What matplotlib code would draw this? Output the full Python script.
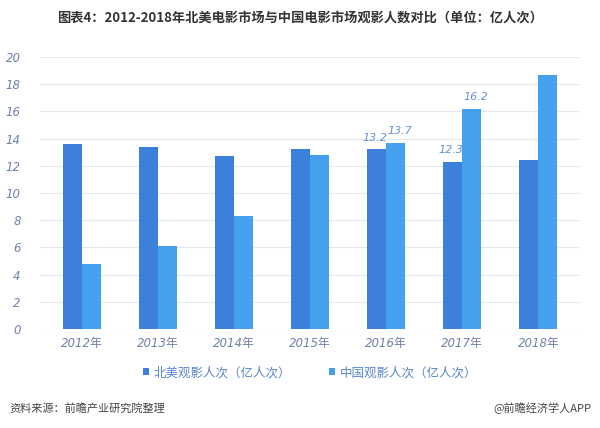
import matplotlib.pyplot as plt
import numpy as np

plt.rcParams['font.family'] = ['Noto Sans CJK SC', 'DejaVu Sans']

years = ['2012年', '2013年', '2014年', '2015年', '2016年', '2017年', '2018年']
north_america = [13.6, 13.4, 12.7, 13.2, 13.2, 12.3, 12.4]
china = [4.8, 6.1, 8.3, 12.8, 13.7, 16.2, 18.7]
yticks = [0, 2, 4, 6, 8, 10, 12, 14, 16, 18, 20]

na_color = '#3c80dc'
cn_color = '#45a0ee'
tick_color = '#7080a8'
num_font = ['DejaVu Sans', 'Noto Sans CJK SC']

fig = plt.figure(figsize=(6, 4.28), dpi=100)
ax = fig.add_axes([0.067, 0.231, 0.9, 0.636])

x = np.arange(len(years))
w = 0.25
ax.bar(x - w / 2, north_america, w, color=na_color, label='北美观影人次（亿人次）', zorder=3)
ax.bar(x + w / 2, china, w, color=cn_color, label='中国观影人次（亿人次）', zorder=3)

# data labels only on 2016 and 2017, as in the source
for i in [4, 5]:
    ax.text(x[i] - w / 2 - 0.03, north_america[i] + 0.5, f'{north_america[i]}', ha='center', va='bottom',
            fontsize=8, style='italic', color='#6a8fd0', family=num_font)
    ax.text(x[i] + w / 2 + 0.05, china[i] + 0.5, f'{china[i]}', ha='center', va='bottom',
            fontsize=8, style='italic', color='#6a8fd0', family=num_font)

ax.set_ylim(0, 20)
ax.set_xlim(-0.55, 6.55)
ax.set_yticks(yticks)
ax.set_xticks(x)
ax.set_xticklabels(years)
ax.grid(axis='y', color='#e4e8ee', linewidth=0.8, zorder=0)
for s in ax.spines.values():
    s.set_visible(False)
ax.tick_params(length=0, colors=tick_color, labelsize=8.5)
for lbl in ax.get_xticklabels() + ax.get_yticklabels():
    lbl.set_style('italic')
    lbl.set_family(num_font)
ax.tick_params(axis='y', pad=14)
ax.tick_params(axis='x', pad=6)

fig.text(0.5, 0.96, '图表4：2012-2018年北美电影市场与中国电影市场观影人数对比（单位：亿人次）',
         ha='center', va='center', fontsize=9.5, fontweight='bold', color='#333333')

ax.legend(loc='upper center', bbox_to_anchor=(0.5, -0.095), ncol=2, frameon=False,
          fontsize=9, handlelength=0.5, handleheight=0.5, handletextpad=0.4, columnspacing=3,
          labelcolor='#5a86cc')

fig.text(0.015, 0.045, '资料来源：前瞻产业研究院整理', ha='left', va='center',
         fontsize=8, style='italic', color='#444444')
fig.text(0.985, 0.045, '@前瞻经济学人APP', ha='right', va='center',
         fontsize=8, color='#444444')

fig.savefig('out.png', dpi=100)
